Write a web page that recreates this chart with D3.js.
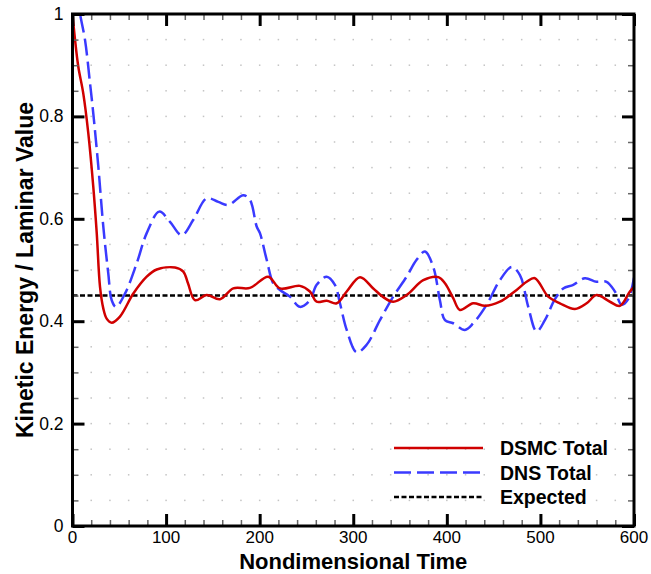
<!DOCTYPE html>
<html>
<head>
<meta charset="utf-8">
<script src="https://cdn.jsdelivr.net/npm/d3@7"></script>
<style>
  body { margin: 0; background: #fff; }
  text { font-family: "Liberation Sans", Arial, sans-serif; }
</style>
</head>
<body>
<svg id="chart"></svg>
<script>
// DSMC total (red, solid)
const dsmcT = [0, 2.7, 6.2, 11.5, 16.9, 22.2, 25.9, 29.4, 32.9, 36.5, 41.9, 50.7, 65, 79.3, 90, 109.5, 118.4, 123.4, 130.9, 143.4, 157.6, 171.8, 189.6, 209.2, 221.7, 243, 253.7, 260.9, 271.6, 282.3, 293, 307.2, 321.4, 332.1, 342.7, 357, 374.8, 391, 398, 406.8, 414, 428.2, 440.7, 456.7, 474.6, 485.3, 494.1, 508.3, 520.8, 536.9, 549.4, 560, 574.3, 585, 595.6, 600];
const dsmcV = [1.0, 0.95, 0.897, 0.845, 0.767, 0.663, 0.572, 0.467, 0.425, 0.405, 0.397, 0.409, 0.454, 0.487, 0.501, 0.505, 0.497, 0.474, 0.441, 0.451, 0.443, 0.464, 0.465, 0.487, 0.464, 0.469, 0.458, 0.438, 0.44, 0.435, 0.458, 0.486, 0.464, 0.447, 0.438, 0.451, 0.48, 0.486, 0.474, 0.445, 0.422, 0.435, 0.43, 0.438, 0.461, 0.477, 0.484, 0.448, 0.435, 0.424, 0.435, 0.451, 0.438, 0.43, 0.458, 0.467];

// DNS total (blue, dashed)
const dnsT = [4, 8, 13.4, 18.7, 22.2, 27.6, 32.9, 38.2, 41.9, 46.5, 56.1, 68.6, 79.3, 92.7, 104.2, 116.7, 129.1, 143.4, 155.8, 166.5, 182.5, 189.6, 196.8, 200.3, 207.5, 214.5, 221.7, 232.4, 243, 253.7, 260.9, 271.6, 280.4, 285.8, 293, 303.6, 314.3, 328.5, 342.7, 357, 367.7, 376.6, 385.5, 392.6, 398, 406.8, 419.3, 428.2, 442.5, 456.7, 469.4, 478.1, 487, 495.9, 504.8, 515.5, 524.4, 535.1, 547.5, 560, 570.7, 579.6, 586.8, 593.8, 600];
const dnsV = [1.04, 1.0, 0.949, 0.865, 0.806, 0.702, 0.585, 0.494, 0.441, 0.428, 0.454, 0.513, 0.572, 0.614, 0.594, 0.568, 0.598, 0.64, 0.633, 0.627, 0.646, 0.637, 0.585, 0.572, 0.52, 0.474, 0.461, 0.448, 0.428, 0.441, 0.471, 0.487, 0.471, 0.435, 0.383, 0.339, 0.354, 0.402, 0.448, 0.487, 0.52, 0.536, 0.506, 0.441, 0.402, 0.396, 0.383, 0.396, 0.432, 0.48, 0.506, 0.49, 0.428, 0.38, 0.402, 0.443, 0.464, 0.471, 0.484, 0.477, 0.477, 0.458, 0.432, 0.443, 0.485];

const expectedValue = 0.45;

const xTicks = [0, 100, 200, 300, 400, 500, 600];
const yTicks = [0, 0.2, 0.4, 0.6, 0.8, 1];
const yTickLabels = ["0", "0.2", "0.4", "0.6", "0.8", "1"];

const legendNames = ["DSMC Total", "DNS Total", "Expected"];

const width = 651, height = 574;
const margin = { left: 72.5, right: 634, top: 14, bottom: 526 }; // pixel edges of the plot box

const svg = d3.select("#chart").attr("width", width).attr("height", height);

const x = d3.scaleLinear().domain([0, 600]).range([margin.left, margin.right]);
const y = d3.scaleLinear().domain([0, 1]).range([margin.bottom, margin.top]);

// grid dots at minor intersections
const xMinor = d3.range(20, 600, 20);
const yMinor = d3.range(0.05, 1, 0.05);
const dots = [];
xMinor.forEach(a => yMinor.forEach(b => dots.push([a, b])));
svg.append("g").selectAll("rect").data(dots).join("rect")
  .attr("x", d => x(d[0]) - 0.75)
  .attr("y", d => y(d[1]) - 0.75)
  .attr("width", 1.5).attr("height", 1.5)
  .attr("fill", "#c4c4c4");

svg.append("clipPath").attr("id", "clip")
  .append("rect").attr("x", margin.left).attr("y", margin.top)
  .attr("width", margin.right - margin.left).attr("height", margin.bottom - margin.top);

const line = d3.line()
  .x(d => x(d[0])).y(d => y(d[1]))
  .curve(d3.curveCatmullRom);

const plot = svg.append("g").attr("clip-path", "url(#clip)");

plot.append("line")
  .attr("x1", x(0)).attr("x2", x(600))
  .attr("y1", y(expectedValue)).attr("y2", y(expectedValue))
  .attr("stroke", "#000").attr("stroke-width", 2.5)
  .attr("stroke-dasharray", "5,2.5");

plot.append("path")
  .datum(dnsT.map((t, i) => [t, dnsV[i]]))
  .attr("d", line)
  .attr("fill", "none").attr("stroke", "#3a3aff")
  .attr("stroke-width", 2.5).attr("stroke-dasharray", "17,6");

plot.append("path")
  .datum(dsmcT.map((t, i) => [t, dsmcV[i]]))
  .attr("d", line)
  .attr("fill", "none").attr("stroke", "#d00000")
  .attr("stroke-width", 2.5);

// axes: ticks pointing inward on all four sides
const minorX = d3.range(20, 600, 20).filter(v => v % 100 !== 0);
const minorY = d3.range(0.05, 1, 0.05).filter(v => Math.abs(v / 0.2 - Math.round(v / 0.2)) > 0.01);

function addAxis(axis, pos, tickVals, size, sw, color) {
  const g = svg.append("g")
    .attr("transform", pos)
    .call(axis.tickValues(tickVals).tickSize(size).tickSizeOuter(0).tickFormat(""));
  g.select(".domain").remove();
  g.selectAll(".tick line").attr("stroke", color).attr("stroke-width", sw);
  return g;
}

addAxis(d3.axisTop(x), `translate(0,${margin.bottom})`, minorX, 6, 1.5, "#666");
addAxis(d3.axisBottom(x), `translate(0,${margin.top})`, minorX, 6, 1.5, "#666");
addAxis(d3.axisRight(y), `translate(${margin.left},0)`, minorY, 6, 1.5, "#666");
addAxis(d3.axisLeft(y), `translate(${margin.right},0)`, minorY, 6, 1.5, "#666");

addAxis(d3.axisTop(x), `translate(0,${margin.bottom})`, xTicks, 12, 3, "#000");
addAxis(d3.axisBottom(x), `translate(0,${margin.top})`, xTicks, 12, 3, "#000");
addAxis(d3.axisRight(y), `translate(${margin.left},0)`, yTicks, 12, 3, "#000");
addAxis(d3.axisLeft(y), `translate(${margin.right},0)`, yTicks, 12, 3, "#000");

// frame
svg.append("rect")
  .attr("x", margin.left).attr("y", margin.top)
  .attr("width", margin.right - margin.left).attr("height", margin.bottom - margin.top)
  .attr("fill", "none").attr("stroke", "#000").attr("stroke-width", 3);

// tick labels
svg.append("g").selectAll("text").data(xTicks).join("text")
  .attr("x", d => x(d)).attr("y", margin.bottom + 17)
  .attr("text-anchor", "middle")
  .style("font-size", "17px")
  .text(d => d);

svg.append("g").selectAll("text").data(yTicks).join("text")
  .attr("x", margin.left - 9).attr("y", d => y(d) + 6)
  .attr("text-anchor", "end")
  .style("font-size", "17.5px")
  .text((d, i) => yTickLabels[i]);

// axis titles
svg.append("text")
  .attr("x", (margin.left + margin.right) / 2).attr("y", 569)
  .attr("text-anchor", "middle")
  .style("font-size", "22px").style("font-weight", "bold")
  .text("Nondimensional Time");

svg.append("text")
  .attr("transform", `translate(33,${(margin.top + margin.bottom) / 2}) rotate(-90)`)
  .attr("text-anchor", "middle")
  .style("font-size", "23px").style("font-weight", "bold")
  .text("Kinetic Energy / Laminar Value");

// legend
const legendStyles = [
  { stroke: "#d00000", dash: null },
  { stroke: "#3a3aff", dash: "17,6" },
  { stroke: "#000", dash: "5,2.5" }
];
const lg = svg.append("g");
legendNames.forEach((name, i) => {
  const ly = 448 + i * 24.5;
  lg.append("line")
    .attr("x1", 394).attr("x2", 483)
    .attr("y1", ly).attr("y2", ly)
    .attr("stroke", legendStyles[i].stroke)
    .attr("stroke-width", 2.5)
    .attr("stroke-dasharray", legendStyles[i].dash);
  lg.append("text")
    .attr("x", 500).attr("y", ly + 7)
    .style("font-size", "19.5px").style("font-weight", "bold")
    .text(name);
});
</script>
</body>
</html>
